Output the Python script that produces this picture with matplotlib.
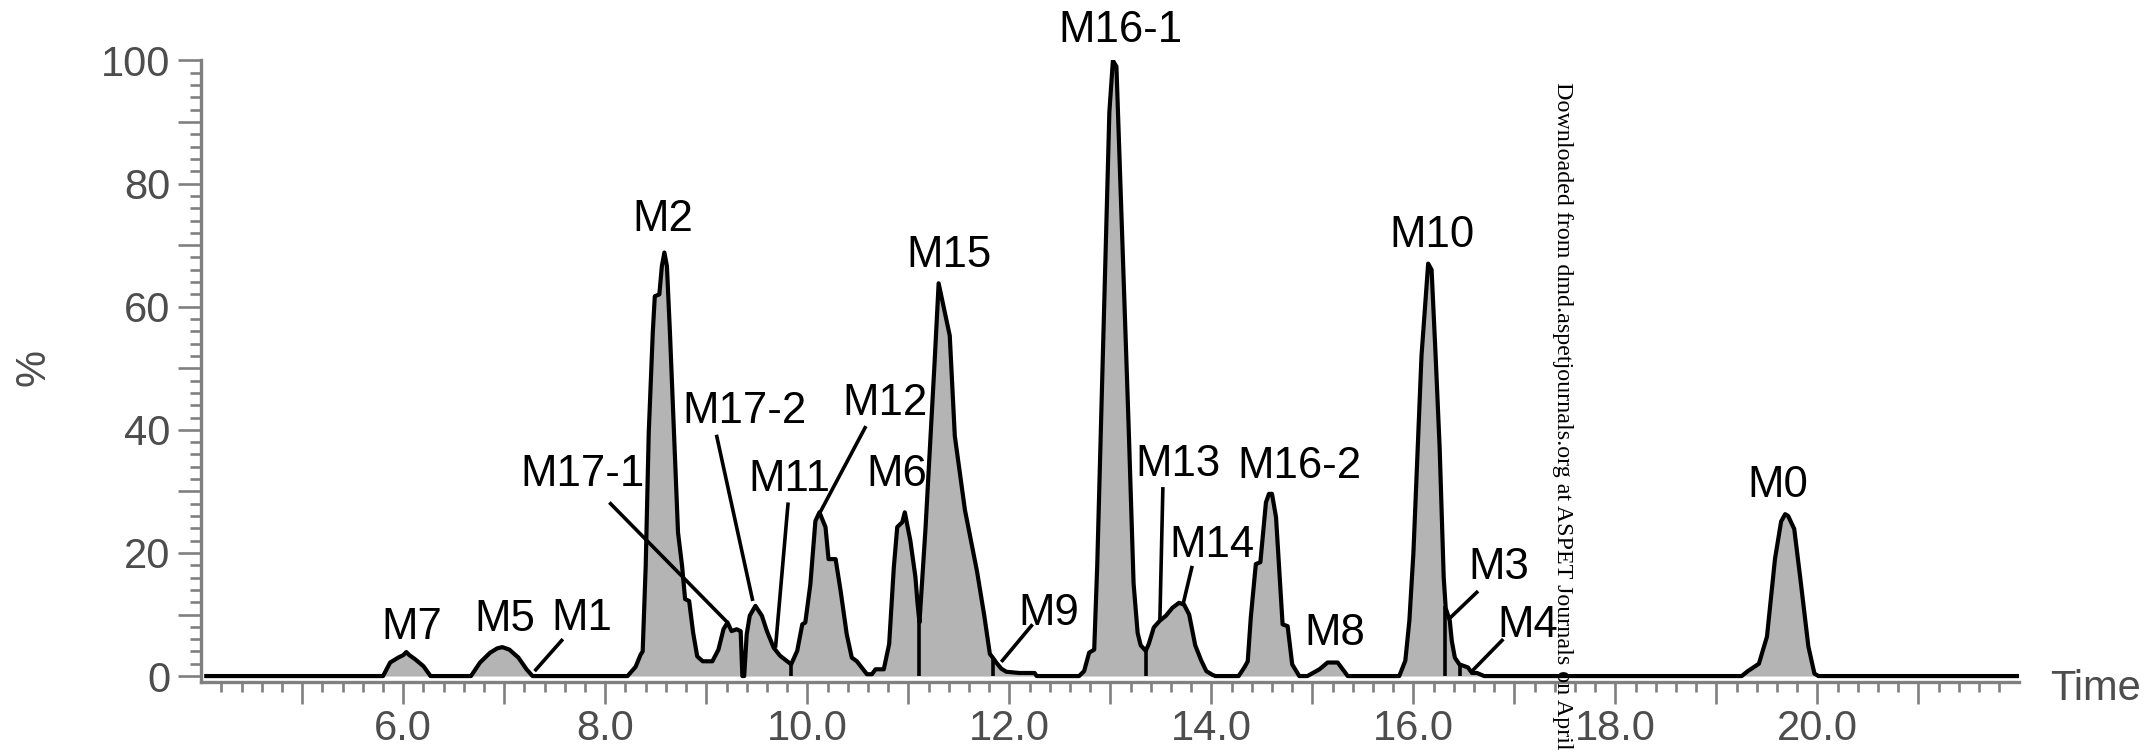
import matplotlib.pyplot as plt
from matplotlib.ticker import FixedLocator, FuncFormatter

plt.rcParams['font.family'] = ['Liberation Sans', 'DejaVu Sans']

# ---- chromatogram trace (time in min, relative %) ---- #
trace_time = [4.05,
              5.80, 5.87, 5.95, 6.00, 6.03, 6.06, 6.12, 6.20, 6.27,
              6.67, 6.76, 6.86, 6.93, 6.98, 7.05, 7.14, 7.22, 7.28,
              8.22, 8.30, 8.35, 8.37, 8.40, 8.43, 8.47, 8.49, 8.535, 8.56, 8.585, 8.61,
              8.64, 8.68, 8.72, 8.76, 8.79, 8.83, 8.87, 8.91, 8.965, 9.06, 9.12, 9.17,
              9.21, 9.25, 9.30, 9.34, 9.357, 9.375,
              9.40, 9.43, 9.486, 9.55, 9.60, 9.667, 9.73, 9.80, 9.84,
              9.90, 9.95, 9.98, 10.03, 10.08, 10.12, 10.18, 10.21, 10.28, 10.33, 10.39,
              10.44, 10.49, 10.59, 10.64,
              10.675, 10.757, 10.81, 10.856, 10.89, 10.94, 10.965, 11.02, 11.07, 11.09, 11.11,
              11.17, 11.22, 11.26, 11.30, 11.41, 11.46, 11.56, 11.68, 11.75, 11.807, 11.84,
              11.87, 11.92, 11.97, 12.10, 12.25, 12.27,
              12.69, 12.74, 12.79, 12.84, 12.87, 12.93, 12.99, 13.025, 13.06, 13.12, 13.18,
              13.23, 13.27, 13.30, 13.35,
              13.38, 13.43, 13.49, 13.55, 13.615, 13.68, 13.73, 13.78, 13.84, 13.90, 13.95,
              14.01, 14.04,
              14.27, 14.33, 14.36, 14.39, 14.44, 14.485, 14.54, 14.57, 14.60, 14.64, 14.705,
              14.755, 14.80, 14.87,
              14.95, 15.07, 15.15, 15.25, 15.35,
              15.86, 15.92, 15.96, 16.00, 16.08, 16.146, 16.18, 16.22, 16.26, 16.30, 16.32,
              16.36, 16.38, 16.41, 16.455, 16.54, 16.58, 16.63, 16.70,
              19.25, 19.31, 19.42, 19.50, 19.58, 19.64, 19.68, 19.71, 19.77, 19.83, 19.91,
              19.97, 20.01,
              21.98]
trace_pct = [0,
             0, 2.2, 3.0, 3.4, 3.9, 3.4, 2.7, 1.6, 0,
             0, 2.2, 3.8, 4.5, 4.7, 4.3, 3.0, 1.1, 0,
             0, 1.5, 3.5, 4.0, 17.9, 39.5, 55.8, 61.7, 62.0, 66.6, 68.8, 66.6,
             55.8, 39.5, 23.3, 17.9, 12.5, 12.2, 7.0, 3.2, 2.4, 2.4, 4.3, 7.6,
             8.7, 7.3, 7.6, 7.3, 0, 0,
             6.8, 9.8, 11.4, 9.8, 7.3, 4.6, 3.3, 2.4, 1.9,
             4.1, 8.4, 8.7, 14.9, 25.2, 26.6, 24.2, 19.0, 19.0, 13.8, 6.8,
             3.0, 2.4, 0.3, 0.3,
             1.1, 1.1, 5.2, 17.6, 24.2, 25.0, 26.6, 22.0, 16.1, 12.0, 8.7,
             24.0, 39.0, 51.0, 63.8, 55.3, 39.0, 27.0, 17.0, 10.0, 3.6, 2.9,
             2.2, 1.2, 0.7, 0.5, 0.5, 0,
             0, 0.8, 3.8, 4.3, 18.0, 55.0, 91.6, 100.0, 99.0, 70.0, 41.0,
             15.0, 7.0, 5.0, 4.1,
             5.2, 7.9, 9.0, 9.8, 11.1, 11.9, 11.6, 10.0, 5.0, 2.5, 0.8,
             0.2, 0,
             0, 1.5, 2.4, 9.5, 18.2, 18.5, 28.2, 29.6, 29.6, 25.8, 8.4,
             8.1, 1.9, 0,
             0, 1.1, 2.2, 2.2, 0,
             0, 2.5, 9.0, 20.0, 52.0, 67.0, 66.0, 52.0, 37.0, 16.0, 11.0,
             9.0, 5.7, 3.0, 1.9, 1.4, 0.5, 0.5, 0,
             0, 0.8, 2.0, 6.4, 19.1, 25.1, 26.3, 26.0, 23.9, 15.9, 4.8,
             0.4, 0,
             0]

# integration drop lines between neighbouring peaks
drop_time = [9.84, 11.11, 11.84, 13.35, 16.317, 16.466]
drop_pct = [1.9, 8.7, 2.9, 4.1, 11.3, 1.9]

# peak labels
label_names = ['M7', 'M5', 'M1', 'M2', 'M17-1', 'M17-2', 'M11', 'M12', 'M6', 'M15',
               'M16-1', 'M9', 'M13', 'M14', 'M16-2', 'M8', 'M10', 'M3', 'M4', 'M0']
label_time = [6.08, 7.01, 7.77, 8.57, 7.77, 9.38, 9.82, 10.77, 10.89, 11.40,
              13.10, 12.39, 13.67, 14.01, 14.87, 15.22, 16.18, 16.85, 17.13, 19.61]
label_pct = [7.9, 9.2, 9.4, 74.2, 32.8, 43.0, 32.0, 44.2, 32.7, 68.3,
             104.8, 10.2, 34.4, 21.2, 34.1, 6.9, 71.5, 17.7, 8.2, 31.0]

# leader lines from label to peak
lead_t0 = [7.58, 8.04, 9.10, 9.81, 10.58, 12.23, 13.52, 13.81, 16.64, 16.89]
lead_v0 = [6.0, 28.2, 39.2, 28.2, 40.6, 8.4, 30.7, 17.9, 13.8, 6.0]
lead_t1 = [7.30, 9.21, 9.46, 9.685, 10.12, 11.92, 13.49, 13.72, 16.36, 16.58]
lead_v1 = [0.8, 8.7, 12.2, 4.6, 26.4, 2.3, 9.0, 11.7, 9.4, 0.8]

x_major = list(range(5, 22))
x_minor = [round(4.2 + 0.2 * i, 1) for i in range(89) if round(4.2 + 0.2 * i, 1) % 1 != 0]
y_major = list(range(0, 101, 10))
y_minor = [v for v in range(0, 101, 2) if v % 10 != 0]

AXIS_GREY = '#808080'
TEXT_GREY = '#4d4d4d'

fig = plt.figure(figsize=(21.5, 7.56), dpi=100)
ax = fig.add_axes([0.0936, 0.0976, 0.8457, 0.8224])

ax.fill_between(trace_time, trace_pct, 0, color='#b4b4b4', lw=0)
ax.plot(trace_time, trace_pct, color='black', lw=3.0, solid_joinstyle='round')
ax.vlines(drop_time, 0, drop_pct, color='black', lw=2.6)

for t0, v0, t1, v1 in zip(lead_t0, lead_v0, lead_t1, lead_v1):
    ax.plot([t0, t1], [v0, v1], color='black', lw=2.6, solid_capstyle='butt')

for name, t, v in zip(label_names, label_time, label_pct):
    ax.text(t, v, name, ha='center', va='center', fontsize=31.5, color='black')

ax.set_xlim(4.0, 22.0)
ax.set_ylim(-1.0, 100.0)

for side in ('top', 'right'):
    ax.spines[side].set_visible(False)
for side in ('left', 'bottom'):
    ax.spines[side].set_color(AXIS_GREY)
    ax.spines[side].set_linewidth(2.4)

ax.xaxis.set_major_locator(FixedLocator(x_major))
ax.xaxis.set_minor_locator(FixedLocator(x_minor))
ax.xaxis.set_major_formatter(FuncFormatter(lambda x, p: f'{x:.1f}' if int(round(x)) % 2 == 0 else ''))
ax.yaxis.set_major_locator(FixedLocator(y_major))
ax.yaxis.set_minor_locator(FixedLocator(y_minor))
ax.yaxis.set_major_formatter(FuncFormatter(lambda y, p: f'{int(y)}' if int(y) % 20 == 0 else ''))

ax.tick_params(axis='x', which='major', length=15.6, width=1.9, color=AXIS_GREY,
               labelsize=30, labelcolor=TEXT_GREY, pad=4)
ax.tick_params(axis='x', which='minor', length=7.2, width=1.9, color=AXIS_GREY)
ax.tick_params(axis='y', which='major', length=16.5, width=1.9, color=AXIS_GREY,
               labelsize=30, labelcolor=TEXT_GREY, pad=5.5)
ax.tick_params(axis='y', which='minor', length=8.0, width=1.9, color=AXIS_GREY)

fig.text(34 / 2150, 1 - 367 / 756, '%', rotation=90, ha='center', va='center',
         fontsize=30, color=TEXT_GREY)
fig.text(2050 / 2150, 1 - 689 / 756, 'Time', ha='left', va='center',
         fontsize=30, color=TEXT_GREY)

fig.text(1562 / 2150, 1 - 82 / 756,
         'Downloaded from dmd.aspetjournals.org at ASPET Journals on April',
         rotation=-90, ha='center', va='top', fontsize=17.3, color='black',
         family=['Liberation Serif', 'DejaVu Serif'])

fig.savefig('out.png', dpi=100)
